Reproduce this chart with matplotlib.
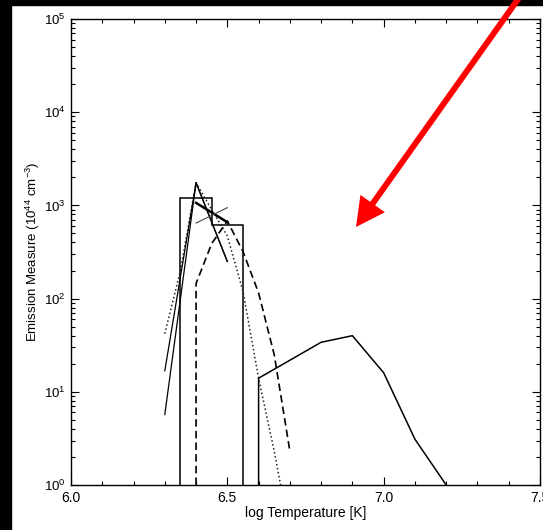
import math
import matplotlib
matplotlib.use("Agg")
import matplotlib.pyplot as plt
from matplotlib.patches import Rectangle, FancyArrowPatch
from matplotlib.ticker import FixedLocator, LogLocator, NullFormatter, FuncFormatter

plt.rcParams['font.family'] = ['Liberation Sans', 'DejaVu Sans']
plt.rcParams['mathtext.fontset'] = 'custom'
plt.rcParams['mathtext.rm'] = 'Liberation Sans'
plt.rcParams['mathtext.it'] = 'Liberation Sans:italic'

# histogram (solid step)
hist_edges = [6.35, 6.45, 6.55]
hist_em = [1200, 610]

# dotted DEM curve
dot_t = [6.30, 6.35, 6.40, 6.45, 6.50, 6.55, 6.60, 6.65, 6.70]
dot_em = [42, 200, 1750, 900, 470, 120, 14, 2.3, 0.3]

# two thin solid curves rising to the peak
solid_a_t = [6.30, 6.40, 6.50]
solid_a_em = [16.8, 1750, 250]
solid_b_t = [6.30, 6.40, 6.50]
solid_b_em = [5.7, 1750, 250]

# short crossing segments
thick_t = [6.40, 6.50]
thick_em = [1065, 660]
cross_t = [6.40, 6.50]
cross_em = [646, 945]

# dashed curve
dash_t = [6.40, 6.40, 6.45, 6.50, 6.55, 6.60, 6.65, 6.70]
dash_em = [1.0, 145, 390, 680, 320, 115, 25, 2.3]

# hot component (solid)
hot_t = [6.60, 6.60, 6.80, 6.90, 7.00, 7.10, 7.20]
hot_em = [1.0, 14, 34, 40, 16, 3.1, 1.0]

W, H = 543, 530
fig = plt.figure(figsize=(W / 100, H / 100), dpi=100)
fig.patch.set_facecolor('white')

#black scan borders on top and left
fig.patches.append(Rectangle((0, 0), 11 / W, 1, transform=fig.transFigure,
                             color='black', zorder=-1))
fig.patches.append(Rectangle((0, 1 - 5 / H), 1, 5 / H, transform=fig.transFigure,
                             color='black', zorder=-1))

ax = fig.add_axes([71 / W, 45 / H, 469 / W, 466 / H])

ax.stairs(hist_em, hist_edges, baseline=1e-3, color='black', lw=1.1)
ax.plot(dot_t, dot_em, color='#222222', lw=1.1, ls=':')
ax.plot(solid_a_t, solid_a_em, color='black', lw=0.9)
ax.plot(solid_b_t, solid_b_em, color='black', lw=0.9)
ax.plot(thick_t, thick_em, color='black', lw=1.8)
ax.plot(cross_t, cross_em, color='#444444', lw=0.8)
ax.plot(dash_t, dash_em, color='black', lw=1.2, ls=(0, (4.5, 2.5)))
ax.plot(hot_t, hot_em, color='black', lw=1.1)

ax.set_xlim(6.0, 7.5)
ax.set_yscale('log')
ax.set_ylim(1, 1e5)

ax.xaxis.set_major_locator(FixedLocator([6.0, 6.5, 7.0, 7.5]))
ax.xaxis.set_minor_locator(FixedLocator([6.1, 6.2, 6.3, 6.4, 6.6, 6.7, 6.8, 6.9,
                                         7.1, 7.2, 7.3, 7.4]))
ax.xaxis.set_major_formatter(FuncFormatter(lambda v, p: '%.1f' % v))
ax.yaxis.set_major_locator(LogLocator(base=10, numticks=10))
ax.yaxis.set_minor_locator(LogLocator(base=10, subs=range(2, 10), numticks=10))
ax.yaxis.set_minor_formatter(NullFormatter())
ax.yaxis.set_major_formatter(FuncFormatter(lambda v, p: r'$10^{%d}$' % round(math.log10(v))))

ax.tick_params(which='both', direction='in', top=True, right=True,
               width=0.8, color='black')
ax.tick_params(axis='x', labelsize=10)
ax.tick_params(axis='y', labelsize=9.5)
ax.tick_params(which='major', length=6, pad=4)
ax.tick_params(which='minor', length=3)
for s in ax.spines.values():
    s.set_linewidth(1.0)

ax.set_xlabel('log Temperature [K]', fontsize=10, labelpad=1)
ax.set_ylabel('Emission Measure (10$^{44}$ cm$^{-3}$)', fontsize=9.5, labelpad=1)

#red pointer arrow
arrow = FancyArrowPatch((521 / W, 535 / H), (356 / W, 303 / H),
                        transform=fig.transFigure,
                        arrowstyle='simple,head_length=20.7,head_width=21.6,tail_width=4.3',
                        mutation_scale=1, color='#ff0000', lw=0,
                        shrinkA=0, shrinkB=0, zorder=10)
fig.add_artist(arrow)

fig.savefig('out.png', dpi=100)
